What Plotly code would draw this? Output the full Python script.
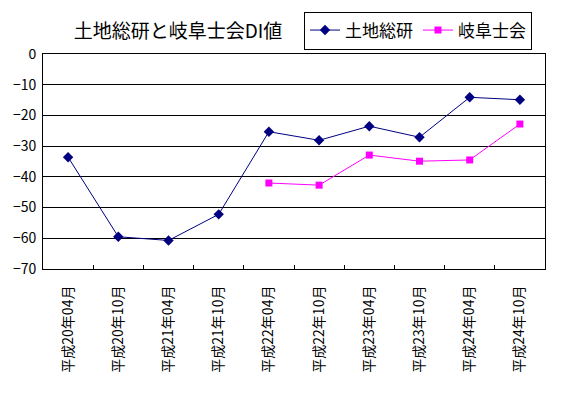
import plotly.graph_objects as go

categories = ["平成20年04月", "平成20年10月", "平成21年04月", "平成21年10月", "平成22年04月",
              "平成22年10月", "平成23年04月", "平成23年10月", "平成24年04月", "平成24年10月"]
tochi = [-33.6, -59.5, -60.7, -52.2, -25.3, -28.1, -23.5, -27.1, -14.1, -14.9]
gifu = [None, None, None, None, -42.0, -42.7, -32.9, -34.9, -34.5, -22.8]
y_ticks = [0, -10, -20, -30, -40, -50, -60, -70]

FONT = "Noto Sans CJK JP"
OFF = 8  # page body margin

fig = go.Figure()
fig.add_trace(go.Scatter(x=categories, y=tochi, name="土地総研", mode="lines+markers",
                         line=dict(color="#000080", width=1),
                         marker=dict(symbol="diamond", size=8, color="#000080")))
fig.add_trace(go.Scatter(x=categories, y=gifu, name="岐阜士会", mode="lines+markers",
                         line=dict(color="#FF00FF", width=1),
                         marker=dict(symbol="square", size=7, color="#FF00FF")))

fig.update_layout(
    width=577, height=396,
    margin=dict(l=43 - OFF, r=32 + OFF, t=54 - OFF, b=127 + OFF, autoexpand=False),
    paper_bgcolor="white", plot_bgcolor="white",
    font=dict(family=FONT, color="black", size=14),
    title=dict(text="土地総研と岐阜士会DI値", x=(178 - OFF)/577, xanchor="center",
               y=1-(31 - OFF)/396, yanchor="middle", font=dict(size=19, family=FONT)),
    legend=dict(orientation="h", xref="container", yref="container",
                x=(304 - OFF)/577, xanchor="left", y=1-(11.5 - OFF)/396, yanchor="top",
                bordercolor="black", borderwidth=1, font=dict(size=17, family=FONT),
                bgcolor="white", itemwidth=30, tracegroupgap=0),
    showlegend=True,
)
fig.update_xaxes(type="category", showline=True, linecolor="black", linewidth=1, mirror=True,
                 ticks="inside", ticklen=4, tickcolor="black", tickson="boundaries",
                 tickangle=-90, tickfont=dict(size=14), showgrid=False, ticklabelstandoff=10,
                 range=[-0.5, 9.5], automargin=False)
fig.update_yaxes(range=[-70, 0], tickvals=y_ticks, showline=True, linecolor="black", linewidth=1,
                 mirror=True, showgrid=True, gridcolor="black", gridwidth=1, zeroline=False,
                 ticks="", tickfont=dict(size=14), ticklabelstandoff=3, automargin=False)

fig.write_html("out.html")
